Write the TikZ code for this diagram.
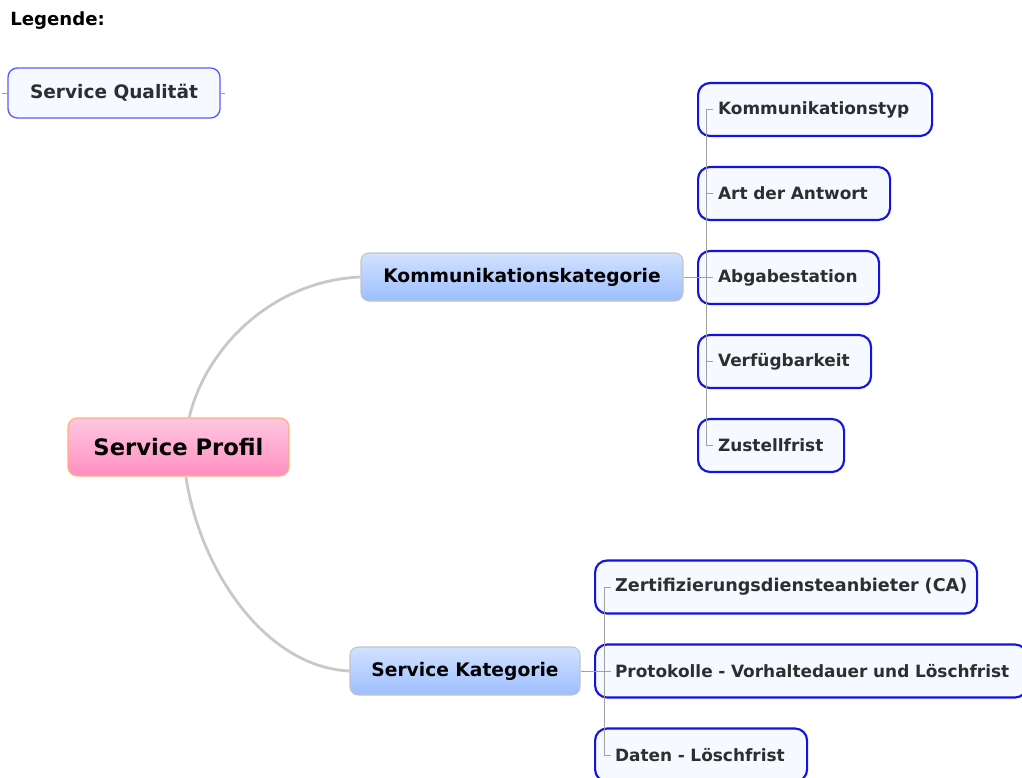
\documentclass[tikz,border=0pt]{standalone}
\usepackage{fontspec}
\setmainfont{DejaVu Sans}
\usetikzlibrary{calc}
\definecolor{leafline}{HTML}{1414E0}
\definecolor{leaffill}{HTML}{F6F9FF}
\definecolor{legline}{HTML}{5C5CFF}
\definecolor{bluetop}{HTML}{D2E2FF}
\definecolor{bluebot}{HTML}{9CBEFF}
\definecolor{bluerim}{HTML}{C4C4C4}
\definecolor{pinktop}{HTML}{FFC8E2}
\definecolor{pinkbot}{HTML}{FF8EC0}
\definecolor{pinkrim}{HTML}{FFB07A}
\definecolor{curveline}{HTML}{C8C8C8}
\definecolor{busline}{HTML}{A0A0A0}
\definecolor{leaftext}{HTML}{2E2E2E}
\tikzset{
  leaf/.style={draw=leafline, line width=1.6pt, fill=leaffill, rounded corners=9pt,
    anchor=west, inner xsep=15pt, minimum height=39.75pt, align=left,
    font=\bfseries\fontsize{12.7}{14}\selectfont, text=leaftext},
  topic/.style={draw=bluerim, line width=0.8pt, rounded corners=6pt,
    top color=bluetop, bottom color=bluebot, minimum height=36pt,
    font=\bfseries\fontsize{14}{16}\selectfont, text=black},
  central/.style={draw=pinkrim, line width=0.9pt, rounded corners=7pt,
    top color=pinktop, bottom color=pinkbot, minimum height=43.5pt, minimum width=165.75pt,
    font=\bfseries\fontsize{17}{20}\selectfont, text=black},
  legendbox/.style={draw=legline, line width=1pt, fill=leaffill, rounded corners=7pt,
    minimum width=159pt, minimum height=37.5pt,
    font=\bfseries\fontsize{13.9}{16}\selectfont, text=leaftext},
  branch/.style={draw=curveline, line width=2.1pt},
  bus/.style={draw=busline, line width=0.7pt}
}
\begin{document}
\begin{tikzpicture}[x=0.75pt, y=-0.75pt]
\useasboundingbox (0,0) rectangle (1022,778);

% legend
\node[anchor=base west, inner sep=0pt, font=\bfseries\fontsize{13.6}{15}\selectfont] (leg) at (10,26) {Legende:};
\node[legendbox] (sq) at (114,93) {Service Qualität};
\draw[bus] (sq.west) -- ++(-5,0);
\draw[bus] (sq.east) -- ++(4,0);

% main topics
\node[central] (sp) at (178.5,447) {Service Profil};
\node[topic, minimum width=241.5pt] (kk) at (522,277) {Kommunikationskategorie};
\node[topic, minimum width=172.5pt] (sk) at (465,671) {Service Kategorie};

\draw[branch] (sp.70) .. controls (205,350) and (270,281) .. (kk.west);
\draw[branch] (sp.-76) .. controls (200,570) and (265,667) .. (sk.west);

% communication leaves
\node[leaf, text width=145.5pt] (k1) at (697,109.5) {\mbox{Kommunikationstyp}};
\node[leaf, text width=114pt]   (k2) at (697,193.5) {\mbox{Art der Antwort}};
\node[leaf, text width=105.75pt] (k3) at (697,277.5) {\mbox{Abgabestation}};
\node[leaf, text width=99.75pt] (k4) at (697,361.5) {\mbox{Verfügbarkeit}};
\node[leaf, text width=79.5pt]  (k5) at (697,445.5) {\mbox{Zustellfrist}};

\coordinate (kbus) at (706,277);
\draw[bus] (kk.east) -- (kbus);
\draw[bus] (kbus |- k1) -- (kbus |- k5);
\foreach \n in {k1,k2,k3,k4,k5}
  \draw[bus] (kbus |- \n) -- ++(7,0);

% service leaves
\node[leaf, text width=256.5pt, font=\bfseries\fontsize{13.2}{15}\selectfont] (s1) at (594,587) {\mbox{Zertifizierungsdiensteanbieter (CA)}};
\node[leaf, text width=294pt]   (s2) at (594,671) {\mbox{Protokolle - Vorhaltedauer und Löschfrist}};
\node[leaf, text width=129pt]   (s3) at (594,755) {\mbox{Daten - Löschfrist}};

\coordinate (sbus) at (604,671);
\draw[bus] (sk.east) -- (sbus);
\draw[bus] (sbus |- s1) -- (sbus |- s3);
\foreach \n in {s1,s2,s3}
  \draw[bus] (sbus |- \n) -- ++(7,0);
\end{tikzpicture}
\end{document}
